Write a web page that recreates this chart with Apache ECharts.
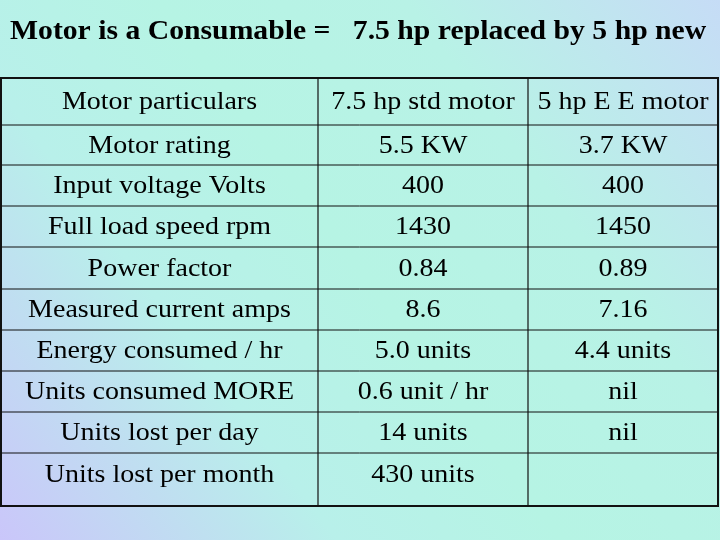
<!DOCTYPE html>
<html><head><meta charset="utf-8">
<script src="https://cdn.jsdelivr.net/npm/echarts@6/dist/echarts.min.js"></script>
<style>html,body{margin:0;padding:0}#c{width:720px;height:540px}</style>
</head><body><div id="c"></div>
<script>
var title = 'Motor is a Consumable =   7.5 hp replaced by 5 hp new';
var headers = ['Motor particulars', '7.5 hp std motor', '5 hp E E motor'];
var particulars = ['Motor rating','Input voltage Volts','Full load speed rpm','Power factor','Measured current amps','Energy consumed / hr','Units consumed MORE','Units lost per day','Units lost per month'];
var stdMotor = ['5.5 KW','400','1430','0.84','8.6','5.0 units','0.6 unit / hr','14 units','430 units'];
var eeMotor = ['3.7 KW','400','1450','0.89','7.16','4.4 units','nil','nil',''];

var colX = [1, 318, 528, 718];
var rowY = [78, 125, 165, 206, 247, 289, 330, 371, 412, 453, 506];
var font = '25px "Liberation Serif"';
var els = [];
els.push({type:'rect', shape:{x:0,y:0,width:720,height:540}, style:{fill:new echarts.graphic.LinearGradient(0,1,1,0,[
  {offset:0,color:'#cac6fa'},{offset:0.3,color:'#b8f0ea'},{offset:0.5,color:'#b6f4e4'},{offset:0.72,color:'#b8f2e6'},{offset:1,color:'#c6dcf6'}])}, z:0});
els.push({type:'text', x:10, y:32, scaleX:1.1, style:{text:title, font:'bold 27px "Liberation Serif"', fill:'#000', verticalAlign:'middle'}, z:2});
var rows = [headers].concat(particulars.map(function(p,i){return [p, stdMotor[i], eeMotor[i]];}));
rows.forEach(function(r,ri){
  var cy = ri === rows.length-1 ? rowY[ri]+22 : (rowY[ri]+rowY[ri+1])/2 + 1;
  r.forEach(function(t,ci){
    els.push({type:'text', x:(colX[ci]+colX[ci+1])/2, y:cy, scaleX:1.12, style:{text:t, font:font, fill:'#000', align:'center', verticalAlign:'middle'}, z:2});
  });
});
for (var i=1;i<rowY.length-1;i++) els.push({type:'line', shape:{x1:colX[0],y1:rowY[i],x2:colX[3],y2:rowY[i]}, style:{stroke:'#111',lineWidth:1}, z:3});
for (var j=1;j<colX.length-1;j++) els.push({type:'line', shape:{x1:colX[j],y1:rowY[0],x2:colX[j],y2:rowY[rowY.length-1]}, style:{stroke:'#111',lineWidth:1.2}, z:3});
els.push({type:'rect', shape:{x:colX[0],y:rowY[0],width:colX[3]-colX[0],height:rowY[rowY.length-1]-rowY[0]}, style:{fill:'none',stroke:'#111',lineWidth:2}, z:3});
var chart = echarts.init(document.getElementById('c'));
chart.setOption({animation:false, graphic:{elements:els}});
</script></body></html>
